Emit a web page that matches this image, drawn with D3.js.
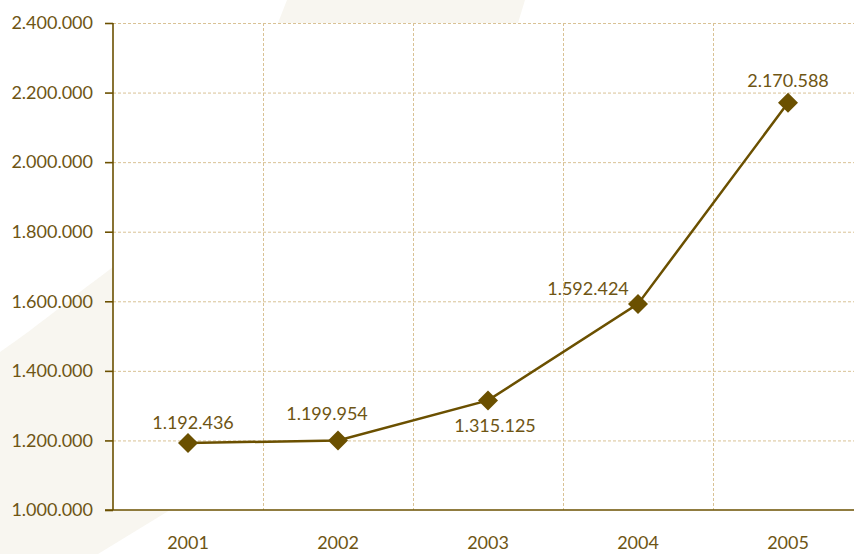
<!DOCTYPE html>
<html>
<head>
<meta charset="utf-8">
<script src="https://cdn.jsdelivr.net/npm/d3@7"></script>
<style>
    body { margin: 0; background: #fff; }
    svg { display: block; font-family: Lato, "Open Sans", sans-serif; }
    .tick_label { fill: #6e5514; font-size: 18px; }
    .grid { stroke: #d9c295; stroke-width: 1; stroke-dasharray: 3,2; fill: none; }
</style>
</head>
<body>
<svg id="chart" width="854" height="554"></svg>
<script>
// values
let years = ["2001", "2002", "2003", "2004", "2005"],
    visitors = [1192436, 1199954, 1315125, 1592424, 2170588],
    y_ticks = [1000000, 1200000, 1400000, 1600000, 1800000, 2000000, 2200000, 2400000];

// label placement around each point (dx, dy of label baseline centre)
let label_offsets = [[5, -14], [-11, -20], [7, 32], [-50, -9], [0, -16]];

let svg = d3.select("#chart"),
    dark = "#6b5000",
    plot_left = 113, plot_right = 863, plot_top = 23, plot_bottom = 510;

let fmt = d => d3.format(",")(d).replace(/,/g, ".");

let xScale = d3.scaleBand()
    .domain(years)
    .range([plot_left, plot_right]);

let yScale = d3.scaleLinear()
    .domain([1000000, 2400000])
    .range([plot_bottom, plot_top]);

// faint decoration behind the plot
svg.append("path")
    .attr("d", "M287,0 L525,0 L518,23 L278,23 Z")
    .attr("fill", "#f8f6f0");
svg.append("path")
    .attr("d", "M0,352 C40,325 80,290 130,255 L170,510 L98,554 L0,554 Z")
    .attr("fill", "#f8f6f0");

svg.append("rect")
    .attr("x", plot_left)
    .attr("y", plot_top)
    .attr("width", plot_right - plot_left)
    .attr("height", plot_bottom - plot_top)
    .attr("fill", "#fff");

// grid
svg.append("g")
    .selectAll("line")
    .data(y_ticks.slice(1))
    .enter()
    .append("line")
    .attr("class", "grid")
    .attr("x1", plot_left)
    .attr("x2", plot_right)
    .attr("y1", d => yScale(d) + 0.5)
    .attr("y2", d => yScale(d) + 0.5);

svg.append("g")
    .selectAll("line")
    .data(years.slice(1))
    .enter()
    .append("line")
    .attr("class", "grid")
    .attr("x1", d => xScale(d) + 0.5)
    .attr("x2", d => xScale(d) + 0.5)
    .attr("y1", plot_top)
    .attr("y2", plot_bottom);

// y axis
let y_axis = svg.append("g")
    .attr("transform", "translate(" + plot_left + ",0)")
    .call(d3.axisLeft(yScale).tickValues(y_ticks).tickFormat(fmt).tickSize(8).tickPadding(12));
y_axis.select(".domain").attr("stroke", dark).attr("stroke-width", 1.6).attr("d", "M0," + plot_top + "V" + plot_bottom);
y_axis.selectAll(".tick line").attr("stroke", dark).attr("stroke-width", 1.6);
y_axis.selectAll(".tick text").attr("class", "tick_label");
y_axis.attr("font-family", null).attr("font-size", null);

// x axis
let x_axis = svg.append("g")
    .attr("transform", "translate(0," + plot_bottom + ")")
    .call(d3.axisBottom(xScale).tickSize(0).tickPadding(26));
x_axis.select(".domain").attr("stroke", dark).attr("stroke-width", 1.6).attr("d", "M" + (plot_left - 8) + ",0H" + plot_right);
x_axis.selectAll(".tick text").attr("class", "tick_label");
x_axis.attr("font-family", null).attr("font-size", null);

// series
let points = years.map((y, i) => [xScale(y) + xScale.bandwidth() / 2, yScale(visitors[i])]);

svg.append("path")
    .attr("d", d3.line()(points))
    .attr("fill", "none")
    .attr("stroke", dark)
    .attr("stroke-width", 2.5);

svg.append("g")
    .selectAll("path")
    .data(points)
    .enter()
    .append("path")
    .attr("d", d => "M" + d[0] + "," + (d[1] - 10) + "L" + (d[0] + 10) + "," + d[1] +
        "L" + d[0] + "," + (d[1] + 10) + "L" + (d[0] - 10) + "," + d[1] + "Z")
    .attr("fill", dark);

svg.append("g")
    .selectAll("text")
    .data(visitors)
    .enter()
    .append("text")
    .attr("class", "tick_label")
    .attr("text-anchor", "middle")
    .attr("x", (d, i) => points[i][0] + label_offsets[i][0])
    .attr("y", (d, i) => points[i][1] + label_offsets[i][1])
    .text(fmt);
</script>
</body>
</html>
